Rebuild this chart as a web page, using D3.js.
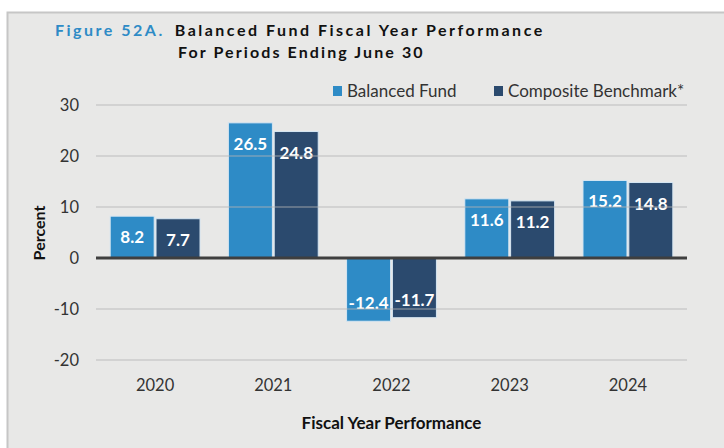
<!DOCTYPE html>
<html>
<head>
<meta charset="utf-8">
<script src="https://cdn.jsdelivr.net/npm/d3@7"></script>
<style>
  body { margin: 0; background: #fff; }
  svg { display: block; font-family: Lato, "Open Sans", sans-serif; }
</style>
</head>
<body>
<svg width="724" height="448"></svg>
<script>
// data
var years = ["2020", "2021", "2022", "2023", "2024"];
var balancedFund = [8.2, 26.5, -12.4, 11.6, 15.2];
var benchmark = [7.7, 24.8, -11.7, 11.2, 14.8];
var seriesNames = ["Balanced Fund", "Composite Benchmark*"];
var yTicks = [-20, -10, 0, 10, 20, 30];

var colors = ["#2e8bc6", "#2b4a6e"];

var svg = d3.select("svg"),
    margin = {top: 105, right: 37, bottom: 88, left: 96},
    width = +svg.attr("width") - margin.left - margin.right,
    height = +svg.attr("height") - margin.top - margin.bottom;

// background panel
svg.append("rect")
    .attr("x", 7.5).attr("y", 12.5)
    .attr("width", 730).attr("height", 450)
    .attr("fill", "#e8e8e7")
    .attr("stroke", "#c6c6c6")
    .attr("stroke-width", 2);

var g = svg.append("g").attr("transform", "translate(" + margin.left + "," + margin.top + ")");

var x = d3.scaleBand().domain(years).range([0, width]).paddingInner(0.24).paddingOuter(0.12);
var x1 = d3.scaleBand().domain(d3.range(2)).range([0, x.bandwidth()]).paddingInner(0.04);
var y = d3.scaleLinear().domain([-20, 30]).range([255, 0]);

// bars
var rows = years.map(function(yr, i) { return {year: yr, values: [balancedFund[i], benchmark[i]]}; });

var groups = g.selectAll(".year")
    .data(rows)
    .join("g")
    .attr("class", "year")
    .attr("transform", d => "translate(" + x(d.year) + ",0)");

groups.selectAll("rect")
    .data(d => d.values.map((v, k) => ({k: k, v: v})))
    .join("rect")
    .attr("x", d => x1(d.k))
    .attr("width", x1.bandwidth())
    .attr("y", d => y(Math.max(0, d.v)))
    .attr("height", d => Math.abs(y(d.v) - y(0)))
    .attr("fill", d => colors[d.k])
    .attr("stroke", "#d6e6f2")
    .attr("stroke-width", 1);

// gridlines (drawn on top, faint)
g.selectAll(".grid")
    .data(yTicks.filter(t => t !== 0))
    .join("line")
    .attr("class", "grid")
    .attr("x1", 0).attr("x2", width)
    .attr("y1", d => y(d)).attr("y2", d => y(d))
    .attr("stroke", "#b4b4b4")
    .attr("stroke-opacity", 0.55)
    .attr("stroke-width", 1.5);

// zero line
g.append("line")
    .attr("x1", 0).attr("x2", width)
    .attr("y1", y(0)).attr("y2", y(0))
    .attr("stroke", "#3f3f3f")
    .attr("stroke-width", 3);

// value labels
groups.selectAll(".val")
    .data(d => d.values.map((v, k) => ({k: k, v: v})))
    .join("text")
    .attr("class", "val")
    .attr("x", d => x1(d.k) + x1.bandwidth() / 2)
    .attr("y", d => d.v >= 0 ? y(d.v) + 27 : y(d.v) - 12)
    .attr("text-anchor", "middle")
    .attr("fill", "#fff")
    .style("font-size", "17px")
    .style("font-weight", "bold")
    .text(d => d.v.toFixed(1));

// y axis labels
g.selectAll(".ytick")
    .data(yTicks)
    .join("text")
    .attr("class", "ytick")
    .attr("x", -17)
    .attr("y", d => y(d) + 6)
    .attr("text-anchor", "end")
    .attr("fill", "#333")
    .style("font-size", "16.5px")
    .text(d => d);

// x axis labels
g.selectAll(".xtick")
    .data(years)
    .join("text")
    .attr("class", "xtick")
    .attr("x", d => x(d) + x.bandwidth() / 2)
    .attr("y", 286)
    .attr("text-anchor", "middle")
    .attr("fill", "#333")
    .style("font-size", "16.5px")
    .text(d => d);

// axis titles
svg.append("text")
    .attr("x", margin.left + width / 2)
    .attr("y", 429)
    .attr("text-anchor", "middle")
    .attr("fill", "#111")
    .style("font-size", "17px")
    .style("font-weight", "bold")
    .text("Fiscal Year Performance");

svg.append("text")
    .attr("transform", "rotate(-90)")
    .attr("x", -(margin.top + y(0) - 25))
    .attr("y", 45)
    .attr("text-anchor", "middle")
    .attr("fill", "#111")
    .style("font-size", "16px")
    .style("font-weight", "bold")
    .text("Percent");

// title
var title = svg.append("text")
    .attr("x", 55)
    .attr("y", 35.5)
    .style("font-size", "16px")
    .style("font-weight", "bold")
    .style("letter-spacing", "2.5px");
title.append("tspan").attr("fill", "#2e8bc6").text("Figure 52A.");
title.append("tspan").attr("fill", "#111").attr("dx", 10).text("Balanced Fund Fiscal Year Performance");

svg.append("text")
    .attr("x", 178)
    .attr("y", 58)
    .attr("fill", "#111")
    .style("font-size", "16px")
    .style("font-weight", "bold")
    .style("letter-spacing", "2.1px")
    .text("For Periods Ending June 30");

// legend
var legendX = [333, 494];
seriesNames.forEach(function(name, i) {
    var lg = svg.append("g").attr("transform", "translate(" + legendX[i] + ",86)");
    lg.append("rect").attr("width", 9).attr("height", 10).attr("fill", colors[i]);
    lg.append("text")
        .attr("x", 14).attr("y", 11)
        .attr("fill", "#333")
        .style("font-size", "17px")
        .text(name);
});
</script>
</body>
</html>
